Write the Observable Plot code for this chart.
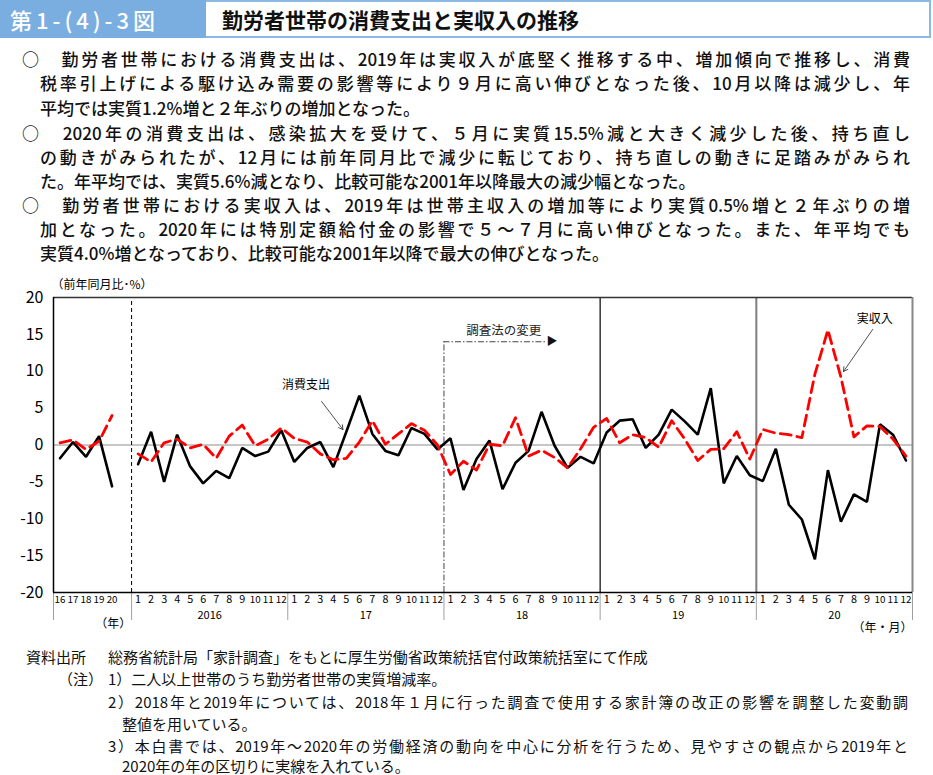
<!DOCTYPE html>
<html><head><meta charset="utf-8">
<script src="https://cdn.jsdelivr.net/npm/d3@7"></script>
<script src="https://cdn.jsdelivr.net/npm/@observablehq/plot@0.6"></script>
<style>
body{margin:0;background:#fff;font-family:"Noto Sans CJK JP",sans-serif;color:#111;}
#page{position:relative;width:933px;height:775px;overflow:hidden;background:#fff;}
#hdr{position:absolute;left:0;top:0;width:929px;height:34px;border:2px solid #8cb8e4;border-left:none;box-sizing:content-box;}
#fig{position:absolute;left:0;top:-2px;width:206px;height:38px;background:#7aaee0;color:#fff;font-size:22px;line-height:38px;padding-left:10px;box-sizing:border-box;letter-spacing:4px;font-weight:500;}
#ttl{position:absolute;left:222px;top:0;height:34px;line-height:34px;font-size:21px;font-weight:700;color:#111;}
.ln{position:absolute;right:23px;font-size:17px;line-height:24px;height:24px;white-space:nowrap;font-weight:500;}
.j{text-align:justify;text-align-last:justify;}
.nt{position:absolute;font-size:15px;line-height:20px;height:20px;white-space:nowrap;}
#chart{position:absolute;left:0;top:270px;}
</style></head>
<body><div id="page">
<div id="hdr"><div id="fig">第1-(4)-3図</div><div id="ttl">勤労者世帯の消費支出と実収入の推移</div></div>

<div class="ln j" style="left:22px;top:47px">○　勤労者世帯における消費支出は、2019年は実収入が底堅く推移する中、増加傾向で推移し、消費</div>
<div class="ln j" style="left:40px;top:71px">税率引上げによる駆け込み需要の影響等により９月に高い伸びとなった後、10月以降は減少し、年</div>
<div class="ln" style="left:40px;top:95.5px">平均では実質1.2%増と２年ぶりの増加となった。</div>
<div class="ln j" style="left:22px;top:120.5px">○　2020年の消費支出は、感染拡大を受けて、５月に実質15.5%減と大きく減少した後、持ち直し</div>
<div class="ln j" style="left:40px;top:145px">の動きがみられたが、12月には前年同月比で減少に転じており、持ち直しの動きに足踏みがみられ</div>
<div class="ln" style="left:40px;top:169px">た。年平均では、実質5.6%減となり、比較可能な2001年以降最大の減少幅となった。</div>
<div class="ln j" style="left:22px;top:193px">○　勤労者世帯における実収入は、2019年は世帯主収入の増加等により実質0.5%増と２年ぶりの増</div>
<div class="ln j" style="left:40px;top:217px">加となった。2020年には特別定額給付金の影響で５～７月に高い伸びとなった。また、年平均でも</div>
<div class="ln" style="left:40px;top:241px">実質4.0%増となっており、比較可能な2001年以降で最大の伸びとなった。</div>

<div id="chart"></div>

<div class="nt" style="left:26px;top:647px">資料出所</div>
<div class="nt" style="left:108px;top:647px">総務省統計局「家計調査」をもとに厚生労働省政策統括官付政策統括室にて作成</div>
<div class="nt" style="left:58px;top:669px">（注）</div>
<div class="nt" style="left:108px;top:669px">1）二人以上世帯のうち勤労者世帯の実質増減率。</div>
<div class="nt j" style="left:108px;width:800px;top:691.5px">2）2018年と2019年については、2018年１月に行った調査で使用する家計簿の改正の影響を調整した変動調</div>
<div class="nt" style="left:122px;top:713.5px">整値を用いている。</div>
<div class="nt j" style="left:108px;width:800px;top:736px">3）本白書では、2019年～2020年の労働経済の動向を中心に分析を行うため、見やすさの観点から2019年と</div>
<div class="nt" style="left:122px;top:756px">2020年の年の区切りに実線を入れている。</div>
</div>

<script>
// ---- data ----
const annualLabels = ["16","17","18","19","20"];
const annualConsumption = [-1.8, 0.4, -1.6, 1.2, -5.6];
const annualIncome = [0.3, 0.7, -0.6, 0.5, 4.0];
const yearLabels = ["2016","17","18","19","20"];
const monthLabels = ["1","2","3","4","5","6","7","8","9","10","11","12"];
const monthlyConsumption = [
  -2.6, 1.8, -5.0, 1.4, -2.9, -5.2, -3.5, -4.5, -0.4, -1.5, -0.9, 2.0,
  -2.3, -0.4, 0.4, -3.0, 1.8, 6.7, 1.5, -0.8, -1.4, 2.3, 1.5, -0.6,
  0.9, -6.1, -1.9, 0.6, -6.0, -2.4, -0.8, 4.5, -0.1, -3.1, -1.6, -2.5,
  1.7, 3.3, 3.5, -0.4, 1.4, 4.8, 3.2, 1.4, 7.7, -5.2, -1.5, -4.1,
  -4.9, -0.5, -8.1, -10.1, -15.5, -3.4, -10.4, -6.7, -7.7, 2.8, 1.4, -2.1
];
const monthlyIncome = [
  -1.2, -2.3, 0.3, 0.8, -0.4, 0.1, -1.8, 1.2, 2.7, -0.1, 0.8, 2.3,
  0.9, 0.4, -1.2, -2.0, -1.8, 0.4, 3.3, 0.1, 1.5, 2.9, 2.0, 0.0,
  -4.0, -2.2, -3.4, 0.1, -0.1, 3.7, -1.5, -0.7, -1.7, -3.1, -0.5, 2.4,
  3.6, 0.3, 1.4, 1.0, -0.3, 3.3, 0.8, -2.1, -0.6, -0.5, 1.8, -1.9,
  2.1, 1.6, 1.4, 1.0, 9.6, 15.6, 9.2, 1.1, 2.6, 2.5, 0.8, -1.5
];
const yTicks = [-20, -15, -10, -5, 0, 5, 10, 15, 20];

// ---- build tables ----
const MONTH0 = 6; // slot of 2016-1
const toRows = (annual, monthly) => [
  ...annual.map((v, i) => ({x: i, v, seg: "a"})),
  ...monthly.map((v, k) => ({x: MONTH0 + k, v, seg: "m"}))
];
const consRows = toRows(annualConsumption, monthlyConsumption);
const incRows = toRows(annualIncome, monthlyIncome);
const annualTicks = annualLabels.map((t, i) => ({x: i, t}));
const monthTicks = monthlyConsumption.map((_, k) => ({x: MONTH0 + k, t: monthLabels[k % 12]}));
const yearTicks = yearLabels.map((t, i) => ({x: MONTH0 + 12 * i + 5.5, t}));
const separators = [-0.5, 5.5, 17.5, 29.5, 41.5, 53.5, 65.5];
const tickSize = d => (d.t.length > 1 ? 9.8 : 10.8);

const chart = Plot.plot({
  width: 933, height: 370,
  marginLeft: 53, marginRight: 21, marginTop: 27, marginBottom: 48,
  x: {domain: [-0.5, 65.5], axis: null},
  y: {domain: [-20, 20], axis: null},
  style: {fontFamily: '"Noto Sans CJK JP", sans-serif', fontSize: "12px", color: "#000", background: "transparent", overflow: "visible"},
  marks: [
    Plot.ruleY([0], {stroke: "#8c8c8c", strokeWidth: 1}),
    Plot.ruleX([5.5], {y1: -20, y2: 20, stroke: "#000", strokeWidth: 1, strokeDasharray: "4,3"}),
    Plot.ruleX([29.5], {y1: -20, y2: 14, stroke: "#444", strokeWidth: 1, strokeDasharray: "6,2,1.5,2"}),
    Plot.ruleY([14], {x1: 29.5, x2: 37.4, stroke: "#444", strokeWidth: 1, strokeDasharray: "6,2,1.5,2"}),
    Plot.text(["▶"], {x: 37.8, y: 14, text: d => d, fontSize: 11, fill: "#111"}),
    Plot.text(["調査法の変更"], {x: 34.1, y: 15.4, text: d => d, fontSize: 12.5, fill: "#222"}),
    Plot.ruleX([41.5], {y1: -20, y2: 20, stroke: "#000", strokeWidth: 1.2}),
    Plot.ruleX([53.5], {y1: -20, y2: 20, stroke: "#7f7f7f", strokeWidth: 2}),
    Plot.ruleX(separators, {y1: -20, y2: -23.8, stroke: "#a0a0a0", strokeWidth: 1}),
    Plot.ruleY([20], {x1: -0.5, x2: 65.5, stroke: "#333", strokeWidth: 1.3}),
    Plot.ruleX([65.5], {y1: -20, y2: 20, stroke: "#888", strokeWidth: 2}),
    Plot.ruleX([-0.5], {y1: -20, y2: 20, stroke: "#000", strokeWidth: 1.5}),
    Plot.ruleY([-20], {x1: -0.5, x2: 65.5, stroke: "#000", strokeWidth: 1.5}),
    Plot.line(consRows, {x: "x", y: "v", z: "seg", stroke: "#000", strokeWidth: 2.6, strokeLinejoin: "miter"}),
    Plot.line(incRows, {x: "x", y: "v", z: "seg", stroke: "#ff0000", strokeWidth: 2.8, strokeDasharray: "11,6"}),
    Plot.axisY({ticks: yTicks, tickSize: 0, tickPadding: 10, fontSize: 16, tickFormat: d => String(d), label: null}),
    Plot.text(["（前年同月比･%）"], {x: -0.5, y: 20, dy: -12, dx: -2, textAnchor: "start", text: d => d, fontSize: 12}),
    Plot.text(annualTicks, {x: "x", text: "t", frameAnchor: "bottom", dy: 10, fontSize: tickSize}),
    Plot.text(monthTicks, {x: "x", text: "t", frameAnchor: "bottom", dy: 10, fontSize: tickSize}),
    Plot.text(yearTicks, {x: "x", text: "t", frameAnchor: "bottom", dy: 26.5, fontSize: 11}),
    Plot.text(["（年）"], {x: 4.1, text: d => d, frameAnchor: "bottom", dy: 35, fontSize: 12}),
    Plot.text(["（年・月）"], {x: 65.5, text: d => d, frameAnchor: "bottom", dy: 39, textAnchor: "end", fontSize: 12}),
    Plot.text(["消費支出"], {x: 18.9, y: 8.1, text: d => d, fontSize: 12}),
    Plot.arrow([{x1: 20.1, y1: 5.9, x2: 21.74, y2: 2.1}], {x1: "x1", y1: "y1", x2: "x2", y2: "y2", stroke: "#222", strokeWidth: 0.8, headLength: 9}),
    Plot.text(["実収入"], {x: 62.6, y: 17.0, text: d => d, fontSize: 12}),
    Plot.arrow([{x1: 62.44, y1: 15.67, x2: 60.2, y2: 9.97}], {x1: "x1", y1: "y1", x2: "x2", y2: "y2", stroke: "#222", strokeWidth: 0.8, headLength: 9})
  ]
});
document.getElementById("chart").appendChild(chart);
</script>
</body></html>
